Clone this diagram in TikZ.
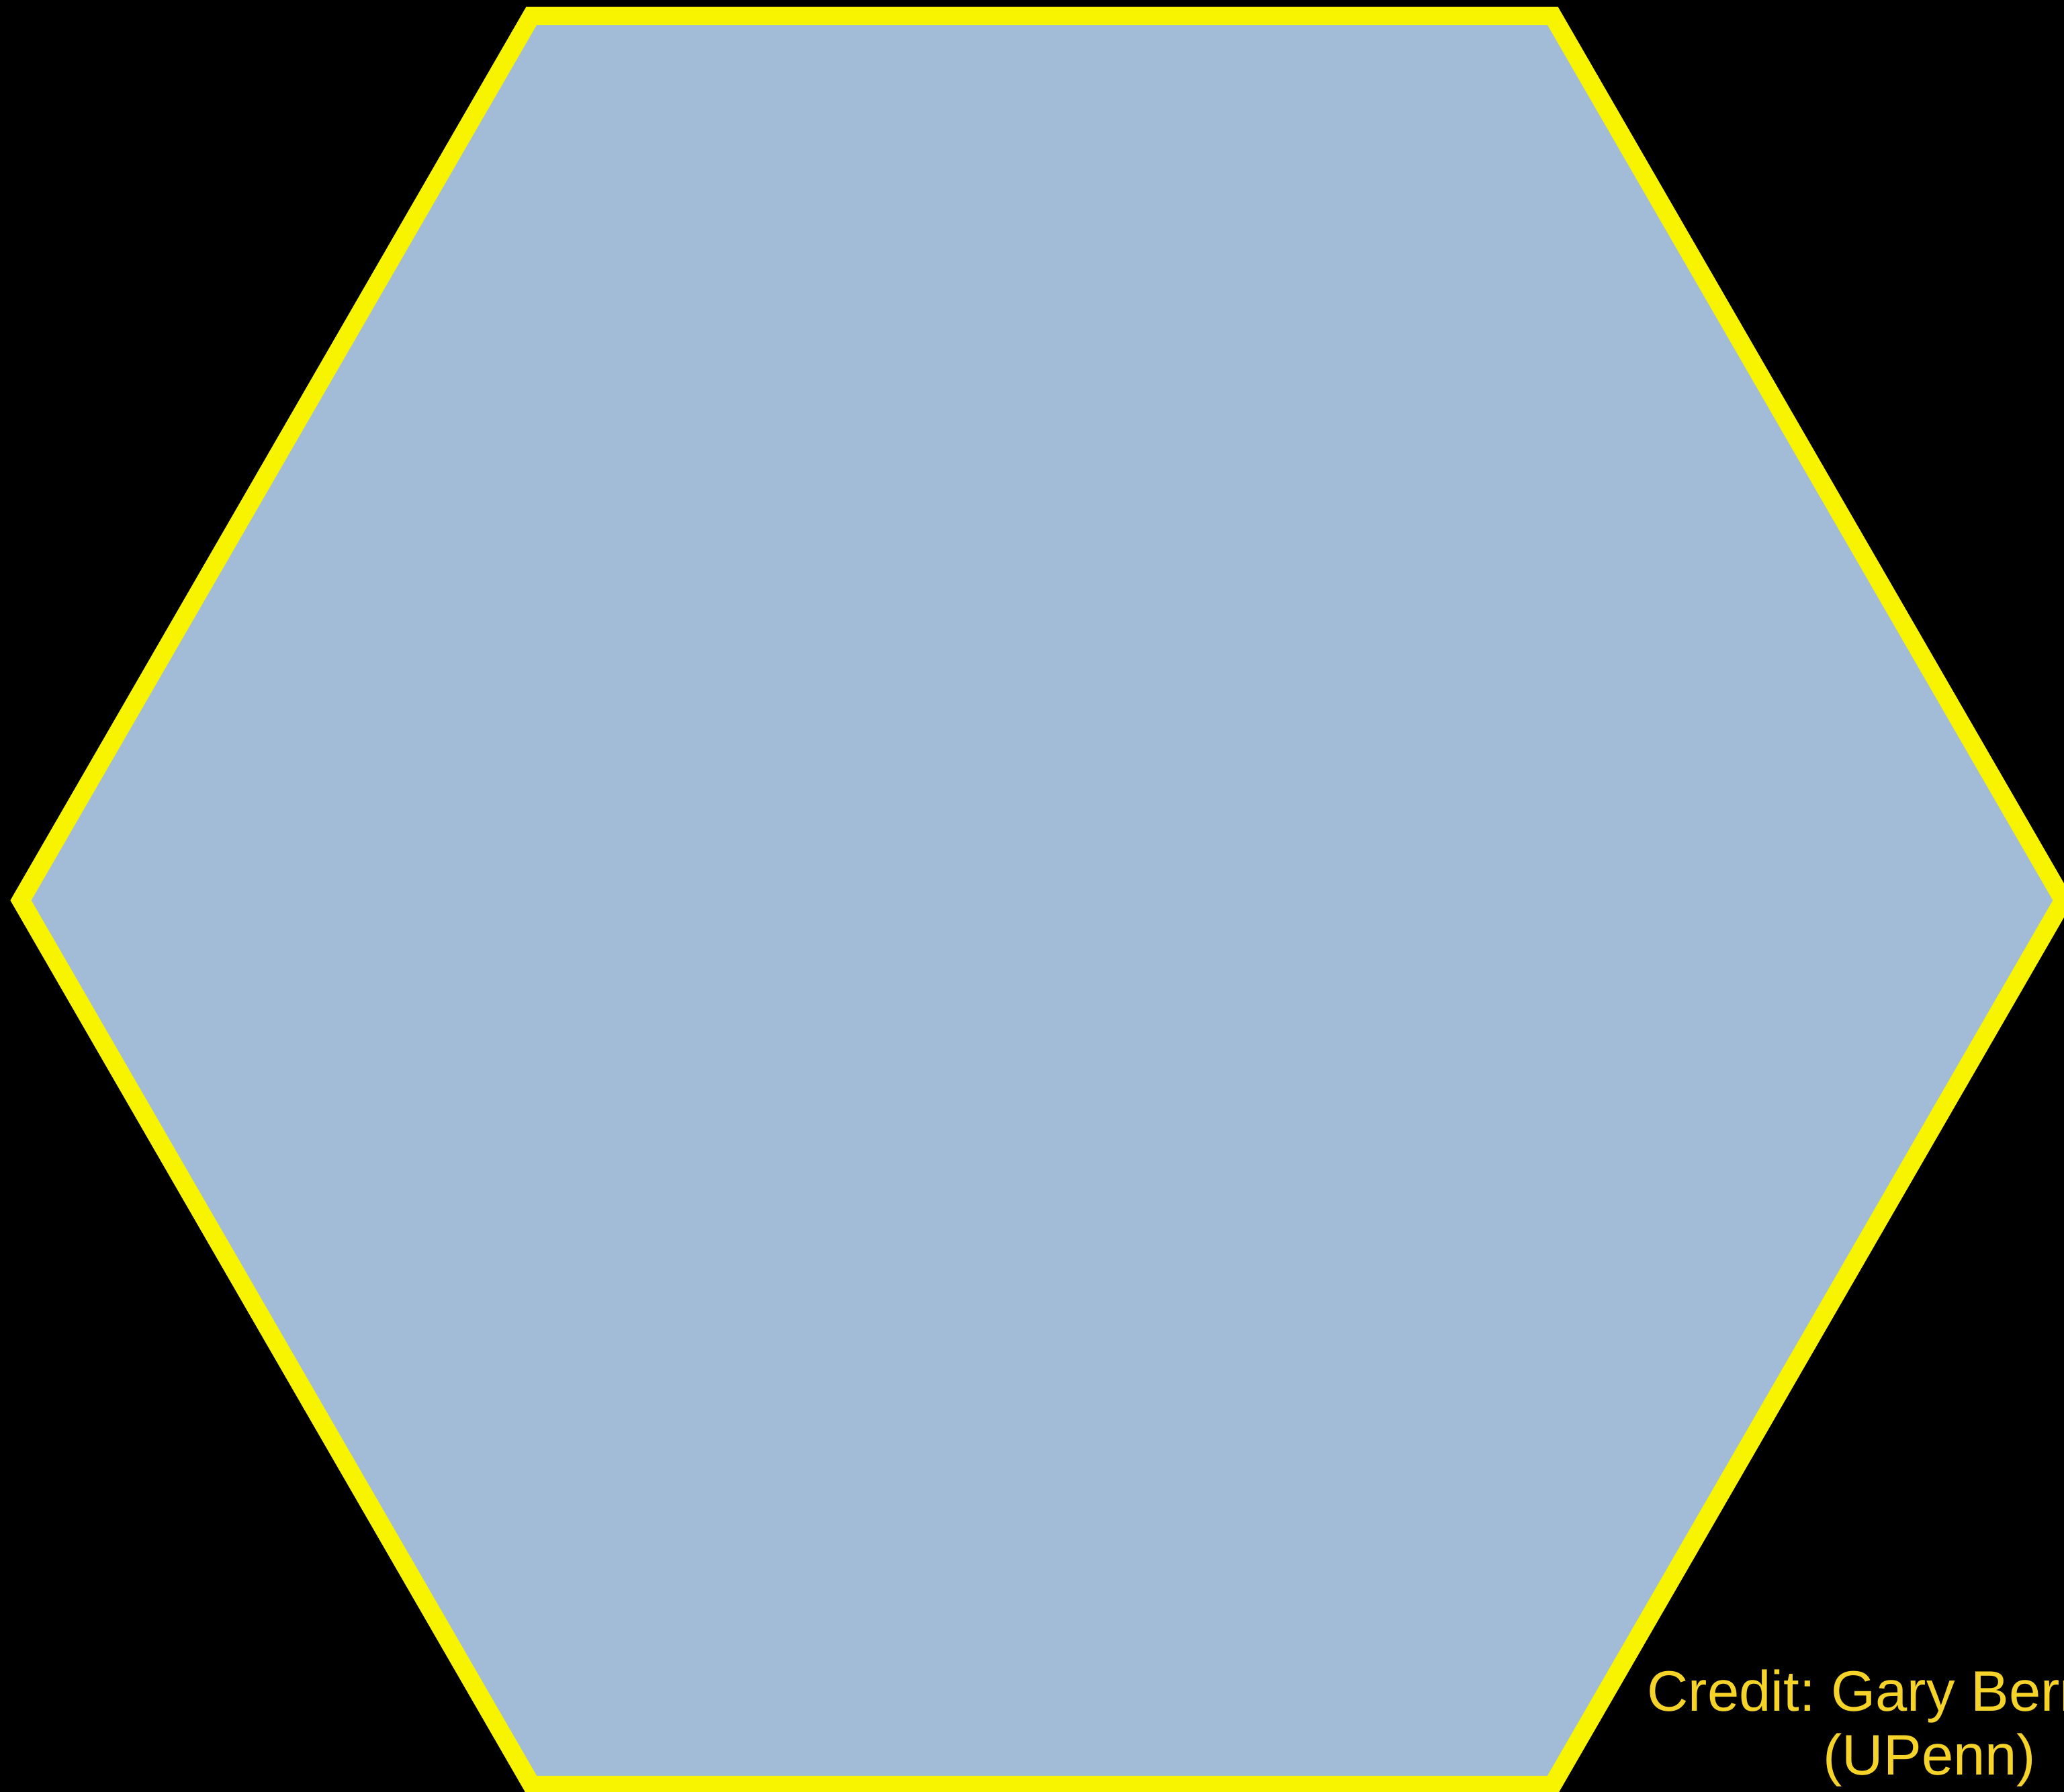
\documentclass[tikz,border=0pt]{standalone}
\usepackage{xcolor}
\usepackage{fontspec}
\setmainfont{Liberation Sans}
\usepackage{tikz}
\usetikzlibrary{positioning, calc}
\definecolor{hexfill}{HTML}{A2BCD8}
\definecolor{hexedge}{HTML}{F8F400}
\definecolor{creditcol}{HTML}{F6D328}
\tikzstyle{hexline} = [draw=hexedge, fill=hexfill, line width=7.68pt, line join=miter]
\tikzstyle{credit}  = [text=creditcol, align=center, inner sep=0pt,
                       font=\fontsize{24.2}{27.03}\selectfont\frenchspacing]

\begin{document}
\begin{tikzpicture}

  %% page and background
  \useasboundingbox (0,0) rectangle (30.73,26.68);
  \clip (0,0) rectangle (30.73,26.68);
  \fill[black] (0,0) rectangle (30.73,26.68);

  %% hexagon corners
  \coordinate (c) at (15.515,13.275);
  \foreach \k in {0,...,5} {
    \coordinate (v\k) at ($(c)+(\k*60:15.205)$);
  }

  %% hexagon
  \draw[hexline] (v0) -- (v1) -- (v2) -- (v3) -- (v4) -- (v5) -- cycle;

  %% credit (base = baseline of the last line)
  \node[credit, anchor=base] (creditline) at (28.73,0.25)
    {Credit: Gary Bernstein\\(UPenn)};

\end{tikzpicture}
\end{document}
